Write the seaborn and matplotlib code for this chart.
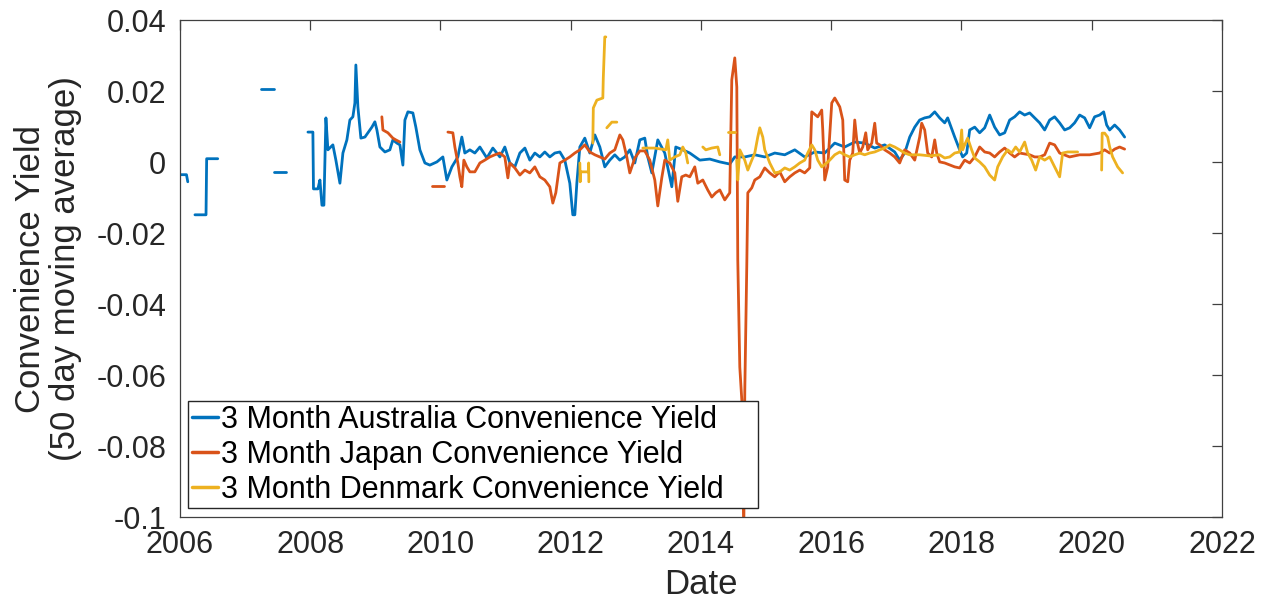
import numpy as np
import pandas as pd
import matplotlib
matplotlib.use("Agg")
import matplotlib.pyplot as plt
import seaborn as sns

nan = np.nan

series_names = [
    "3 Month Australia Convenience Yield",
    "3 Month Japan Convenience Yield",
    "3 Month Denmark Convenience Yield",
]
series_colors = ["#0072BD", "#D95319", "#EDB120"]

# ---- Australia (NaN marks a gap in the data) ----
aus_year = [
    2006.00, 2006.10, 2006.12, nan,
    2006.23, 2006.40, 2006.41, 2006.58, nan,
    2007.24, 2007.44, nan,
    2007.45, 2007.63, nan,
    2007.965, 2008.041, 2008.05, 2008.118, 2008.149, 2008.18, 2008.21, 2008.226,
    2008.241, 2008.272, 2008.348, 2008.394, 2008.456, 2008.502, 2008.563, 2008.609,
    2008.655, 2008.686, 2008.701, 2008.732, 2008.778, 2008.840, 2008.886, 2008.947,
    2008.993, 2009.024, 2009.070, 2009.147, 2009.223, 2009.269, 2009.331, 2009.377,
    2009.423, 2009.454, 2009.500, 2009.576, 2009.622, 2009.684, 2009.761, 2009.837,
    2009.945, 2010.037, 2010.098, 2010.175, 2010.267, 2010.328, 2010.374, 2010.451,
    2010.528, 2010.605, 2010.712, 2010.804, 2010.912, 2010.988, 2011.065, 2011.142,
    2011.219, 2011.296, 2011.372, 2011.449, 2011.526, 2011.602, 2011.679, 2011.756,
    2011.833, 2011.909, 2011.986, 2012.032, 2012.063, 2012.094, 2012.140, 2012.216,
    2012.293, 2012.370, 2012.447, 2012.523, 2012.600, 2012.677, 2012.754, 2012.830,
    2012.907, 2012.984, 2013.061, 2013.137, 2013.183, 2013.245, 2013.337, 2013.444,
    2013.552, 2013.613, 2013.720, 2013.828, 2013.982, 2014.135, 2014.289, 2014.442,
    2014.519, 2014.672, 2014.826, 2014.979, 2015.133, 2015.286, 2015.440, 2015.593,
    2015.747, 2015.900, 2016.054, 2016.207, 2016.361, 2016.514, 2016.668, 2016.821,
    2016.975, 2017.051, 2017.128, 2017.205, 2017.282, 2017.358, 2017.435, 2017.512,
    2017.589, 2017.665, 2017.742, 2017.788, 2017.896, 2017.972, 2018.018, 2018.080,
    2018.126, 2018.203, 2018.279, 2018.356, 2018.433, 2018.509, 2018.586, 2018.663,
    2018.740, 2018.816, 2018.893, 2018.970, 2019.047, 2019.123, 2019.200, 2019.277,
    2019.354, 2019.430, 2019.507, 2019.584, 2019.661, 2019.737, 2019.814, 2019.891,
    2019.968, 2020.044, 2020.121, 2020.183, 2020.229, 2020.275, 2020.352, 2020.428,
    2020.505,
]
aus_value = [
    -0.0035, -0.0035, -0.0055, nan,
    -0.0148, -0.0148, 0.0010, 0.0010, nan,
    0.0206, 0.0206, nan,
    -0.0027, -0.0027, nan,
    0.0085, 0.0085, -0.0075, -0.0075, -0.0050, -0.0121, -0.0121, 0.0000,
    0.0125, 0.0035, 0.0049, 0.0006, -0.0059, 0.0026, 0.0063, 0.0119,
    0.0128, 0.0167, 0.0274, 0.0156, 0.0068, 0.0071, 0.0083, 0.0099,
    0.0114, 0.0091, 0.0043, 0.0029, 0.0035, 0.0063, 0.0054, 0.0049,
    -0.0008, 0.0119, 0.0142, 0.0139, 0.0099, 0.0035, -0.0002, -0.0008,
    0.0001, 0.0015, -0.0050, -0.0013, 0.0015, 0.0071, 0.0026, 0.0035,
    0.0026, 0.0043, 0.0012, 0.0040, 0.0015, 0.0043, -0.0002, -0.0013,
    0.0026, 0.0040, 0.0006, 0.0026, 0.0015, 0.0029, 0.0015, 0.0026,
    0.0029, 0.0006, -0.0059, -0.0148, -0.0148, -0.0059, 0.0043, 0.0068,
    0.0026, 0.0077, 0.0043, -0.0013, 0.0006, 0.0021, 0.0006, 0.0015,
    0.0035, -0.0002, 0.0063, 0.0068, 0.0015, -0.0030, 0.0063, 0.0026,
    -0.0069, 0.0043, 0.0035, 0.0026, 0.0006, 0.0009, 0.0001, -0.0005,
    0.0015, 0.0015, 0.0021, 0.0015, 0.0026, 0.0021, 0.0035, 0.0015,
    0.0029, 0.0026, 0.0054, 0.0043, 0.0057, 0.0054, 0.0040, 0.0049,
    0.0029, 0.0006, 0.0026, 0.0071, 0.0099, 0.0119, 0.0125, 0.0128,
    0.0142, 0.0125, 0.0111, 0.0125, 0.0071, 0.0035, 0.0015, 0.0026,
    0.0091, 0.0099, 0.0083, 0.0097, 0.0133, 0.0099, 0.0077, 0.0083,
    0.0119, 0.0128, 0.0142, 0.0133, 0.0139, 0.0125, 0.0111, 0.0091,
    0.0119, 0.0128, 0.0111, 0.0091, 0.0097, 0.0111, 0.0133, 0.0125,
    0.0097, 0.0128, 0.0133, 0.0142, 0.0105, 0.0091, 0.0105, 0.0091,
    0.0071,
]

# ---- Japan ----
jpn_year = [
    2009.100, 2009.116, 2009.193, 2009.269, 2009.315, 2009.377, nan,
    2009.868, 2010.052, nan,
    2010.114, 2010.190, 2010.221, 2010.267, 2010.298, 2010.328, 2010.359, 2010.405,
    2010.451, 2010.528, 2010.605, 2010.681, 2010.758, 2010.835, 2010.912, 2010.988,
    2011.035, 2011.065, 2011.142, 2011.219, 2011.296, 2011.372, 2011.449, 2011.526,
    2011.602, 2011.679, 2011.725, 2011.771, 2011.833, 2011.909, 2011.986, 2012.063,
    2012.140, 2012.216, 2012.293, 2012.370, 2012.447, 2012.523, 2012.600, 2012.677,
    2012.754, 2012.800, 2012.861, 2012.907, 2012.984, 2013.061, 2013.137, 2013.214,
    2013.291, 2013.337, 2013.398, 2013.444, 2013.521, 2013.598, 2013.644, 2013.705,
    2013.767, 2013.828, 2013.905, 2013.951, 2014.028, 2014.104, 2014.166, 2014.227,
    2014.289, 2014.365, 2014.442, 2014.473, 2014.519, 2014.550, 2014.565, 2014.596,
    2014.627, 2014.657, 2014.673, 2014.703, 2014.719, 2014.780, 2014.826, 2014.903,
    2014.979, 2015.056, 2015.133, 2015.210, 2015.286, 2015.363, 2015.440, 2015.517,
    2015.593, 2015.670, 2015.701, 2015.793, 2015.854, 2015.870, 2015.900, 2015.946,
    2016.008, 2016.054, 2016.131, 2016.177, 2016.207, 2016.253, 2016.284, 2016.330,
    2016.361, 2016.392, 2016.438, 2016.484, 2016.530, 2016.560, 2016.622, 2016.668,
    2016.698, 2016.745, 2016.821, 2016.898, 2016.975, 2017.051, 2017.128, 2017.205,
    2017.282, 2017.358, 2017.389, 2017.435, 2017.481, 2017.543, 2017.589, 2017.620,
    2017.665, 2017.742, 2017.896, 2017.972, 2018.049, 2018.126, 2018.203, 2018.279,
    2018.356, 2018.433, 2018.509, 2018.586, 2018.663, 2018.740, 2018.816, 2018.893,
    2019.047, 2019.123, 2019.200, 2019.277, 2019.354, 2019.430, 2019.507, 2019.661,
    2019.814, 2019.968, 2020.121, 2020.198, 2020.275, 2020.352, 2020.428, 2020.505,
]
jpn_value = [
    0.0128, 0.0091, 0.0083, 0.0068, 0.0063, 0.0057, nan,
    -0.0067, -0.0067, nan,
    0.0085, 0.0083, 0.0043, -0.0002, -0.0041, -0.0069, 0.0006, -0.0013,
    -0.0027, -0.0027, -0.0002, 0.0006, 0.0015, 0.0021, 0.0026, 0.0015,
    -0.0044, -0.0002, -0.0016, -0.0036, -0.0022, -0.0030, -0.0013, -0.0041,
    -0.0050, -0.0069, -0.0115, -0.0086, -0.0002, 0.0006, 0.0015, 0.0026,
    0.0035, 0.0049, 0.0029, 0.0021, 0.0015, 0.0009, 0.0026, 0.0035,
    0.0077, 0.0063, 0.0015, -0.0030, 0.0012, 0.0032, 0.0032, 0.0006,
    -0.0050, -0.0123, -0.0044, 0.0006, -0.0002, -0.0030, -0.0110, -0.0041,
    -0.0036, -0.0041, -0.0013, -0.0059, -0.0050, -0.0078, -0.0098, -0.0086,
    -0.0078, -0.0106, -0.0086, 0.0232, 0.0294, 0.0212, -0.0275, -0.0577,
    -0.0670, -0.1050, -0.0641, -0.0295, -0.0086, -0.0072, -0.0050, -0.0041,
    -0.0016, -0.0030, -0.0041, -0.0027, -0.0055, -0.0041, -0.0030, -0.0022,
    -0.0030, -0.0016, 0.0142, 0.0128, 0.0147, 0.0091, -0.0050, -0.0013,
    0.0167, 0.0181, 0.0156, 0.0119, -0.0050, -0.0055, 0.0006, 0.0026,
    0.0119, 0.0063, 0.0026, 0.0043, 0.0083, 0.0035, 0.0054, 0.0110,
    0.0054, 0.0049, 0.0035, 0.0026, 0.0015, -0.0002, 0.0035, 0.0026,
    0.0006, 0.0071, 0.0110, 0.0091, 0.0026, 0.0015, 0.0063, 0.0026,
    0.0001, -0.0002, -0.0013, -0.0016, 0.0006, -0.0002, 0.0015, 0.0043,
    0.0029, 0.0026, 0.0015, 0.0029, 0.0040, 0.0026, 0.0015, 0.0026,
    0.0021, 0.0015, 0.0015, 0.0021, 0.0054, 0.0049, 0.0026, 0.0015,
    0.0021, 0.0021, 0.0026, 0.0035, 0.0026, 0.0037, 0.0043, 0.0037,
]

# ---- Denmark ----
dnk_year = [
    2012.140, 2012.145, 2012.150, 2012.270, 2012.275, 2012.278, nan,
    2012.339, 2012.347, 2012.401, 2012.493, 2012.500, 2012.523, 2012.539, nan,
    2012.554, 2012.631, 2012.708, nan,
    2013.107, 2013.291, 2013.460, 2013.490, 2013.521, 2013.598, 2013.675, 2013.721,
    2013.767, 2013.797, nan,
    2014.028, 2014.074, 2014.166, 2014.258, 2014.289, nan,
    2014.411, 2014.519, nan,
    2014.550, 2014.565, 2014.596, 2014.672, 2014.719, 2014.780, 2014.826, 2014.872,
    2014.903, 2014.949, 2014.979, 2015.056, 2015.133, 2015.210, 2015.286, 2015.363,
    2015.440, 2015.517, 2015.593, 2015.639, 2015.701, 2015.747, 2015.793, 2015.854,
    2015.931, 2015.977, 2016.054, 2016.131, 2016.207, 2016.284, 2016.361, 2016.438,
    2016.514, 2016.591, 2016.668, 2016.745, 2016.821, 2016.898, 2016.975, 2017.051,
    2017.128, 2017.205, 2017.358, 2017.512, 2017.665, 2017.742, 2017.819, 2017.896,
    2017.972, 2018.003, 2018.018, 2018.049, 2018.095, 2018.156, 2018.203, 2018.279,
    2018.356, 2018.433, 2018.509, 2018.556, 2018.632, 2018.709, 2018.770, 2018.832,
    2018.893, 2018.970, 2019.016, 2019.078, 2019.139, 2019.200, 2019.277, 2019.354,
    2019.430, 2019.507, 2019.553, 2019.630, 2019.783, nan,
    2020.152, 2020.160, 2020.198, 2020.244, 2020.275, 2020.321, 2020.398, 2020.474,
]
dnk_value = [
    -0.0002, -0.0055, -0.0027, -0.0027, -0.0002, -0.0055, nan,
    0.0054, 0.0153, 0.0175, 0.0181, 0.0237, 0.0353, 0.0353, nan,
    0.0097, 0.0113, 0.0113, nan,
    0.0040, 0.0040, 0.0035, 0.0063, 0.0006, 0.0015, 0.0021, 0.0043,
    0.0026, -0.0002, nan,
    0.0043, 0.0035, 0.0040, 0.0043, 0.0021, nan,
    0.0085, 0.0085, nan,
    0.0006, -0.0050, 0.0035, 0.0006, -0.0022, 0.0006, 0.0026, 0.0071,
    0.0097, 0.0071, 0.0035, -0.0002, -0.0030, -0.0027, -0.0016, -0.0022,
    -0.0013, -0.0002, 0.0006, 0.0026, 0.0049, 0.0035, 0.0006, -0.0013,
    -0.0002, 0.0006, 0.0021, 0.0029, 0.0021, 0.0015, 0.0021, 0.0026,
    0.0021, 0.0026, 0.0029, 0.0035, 0.0040, 0.0049, 0.0043, 0.0035,
    0.0026, 0.0021, 0.0021, 0.0018, 0.0021, 0.0012, 0.0015, 0.0026,
    0.0029, 0.0091, 0.0035, 0.0049, 0.0068, 0.0035, 0.0012, 0.0001,
    -0.0013, -0.0036, -0.0050, -0.0013, 0.0015, 0.0035, 0.0026, 0.0043,
    0.0029, 0.0057, 0.0026, 0.0006, -0.0022, 0.0015, 0.0006, 0.0015,
    -0.0013, -0.0041, 0.0026, 0.0029, 0.0029, nan,
    -0.0022, 0.0082, 0.0082, 0.0071, 0.0043, 0.0015, -0.0013, -0.0030,
]

x_ticks = [2006, 2008, 2010, 2012, 2014, 2016, 2018, 2020, 2022]
y_ticks = [-0.1, -0.08, -0.06, -0.04, -0.02, 0, 0.02, 0.04]
y_tick_labels = ["-0.1", "-0.08", "-0.06", "-0.04", "-0.02", "0", "0.02", "0.04"]

# ---- build long table; segments split at NaN gaps ----
frames = []
for name, yrs, vals in zip(series_names,
                           [aus_year, jpn_year, dnk_year],
                           [aus_value, jpn_value, dnk_value]):
    yrs = np.asarray(yrs, dtype=float)
    vals = np.asarray(vals, dtype=float)
    seg = np.cumsum(np.isnan(vals))
    df = pd.DataFrame({"Date": yrs, "value": vals, "series": name,
                       "segment": [f"{name}|{s}" for s in seg]})
    frames.append(df.dropna())
data = pd.concat(frames, ignore_index=True)

sns.set_style("white")
plt.rcParams["font.family"] = ["Liberation Sans", "DejaVu Sans"]
plt.rcParams["axes.unicode_minus"] = False

fig = plt.figure(figsize=(12.62, 6.01), dpi=100)
ax = fig.add_axes([0.1426, 0.1393, 0.8257, 0.8270])

sns.lineplot(data=data, x="Date", y="value", hue="series", hue_order=series_names,
             units="segment", estimator=None, sort=False,
             palette=dict(zip(series_names, series_colors)),
             linewidth=2.0, ax=ax)

ax.set_xlim(2006, 2022)
ax.set_ylim(-0.1, 0.04)
ax.set_xticks(x_ticks)
ax.set_xticklabels([str(t) for t in x_ticks])
ax.set_yticks(y_ticks)
ax.set_yticklabels(y_tick_labels)

axis_color = "#262626"
for sp in ax.spines.values():
    sp.set_visible(True)
    sp.set_color("#404040")
    sp.set_linewidth(0.9)
ax.tick_params(axis="both", direction="in", length=7, width=0.9,
               top=True, right=True, color="#404040",
               labelcolor=axis_color, labelsize=22)
ax.tick_params(axis="x", pad=9)
ax.tick_params(axis="y", pad=10)

ax.set_xlabel("Date", fontsize=25, color=axis_color, labelpad=6)
ax.set_ylabel("Convenience Yield\n(50 day moving average)", fontsize=25,
              color=axis_color, labelpad=10, linespacing=1.1)

sns.move_legend(ax, "lower left", bbox_to_anchor=(0.0077, 0.018, 0.547, 0.3),
                mode="expand", borderaxespad=0, title=None, frameon=True,
                fancybox=False, framealpha=1, fontsize=22, handlelength=0.85,
                handletextpad=0.1, borderpad=0.12, labelspacing=0.16)
leg = ax.get_legend()
leg.get_frame().set_edgecolor(axis_color)
leg.get_frame().set_linewidth(1.0)
for line in leg.get_lines():
    line.set_linewidth(2.5)
for txt in leg.get_texts():
    txt.set_color("black")

fig.savefig("out.png", dpi=100)
